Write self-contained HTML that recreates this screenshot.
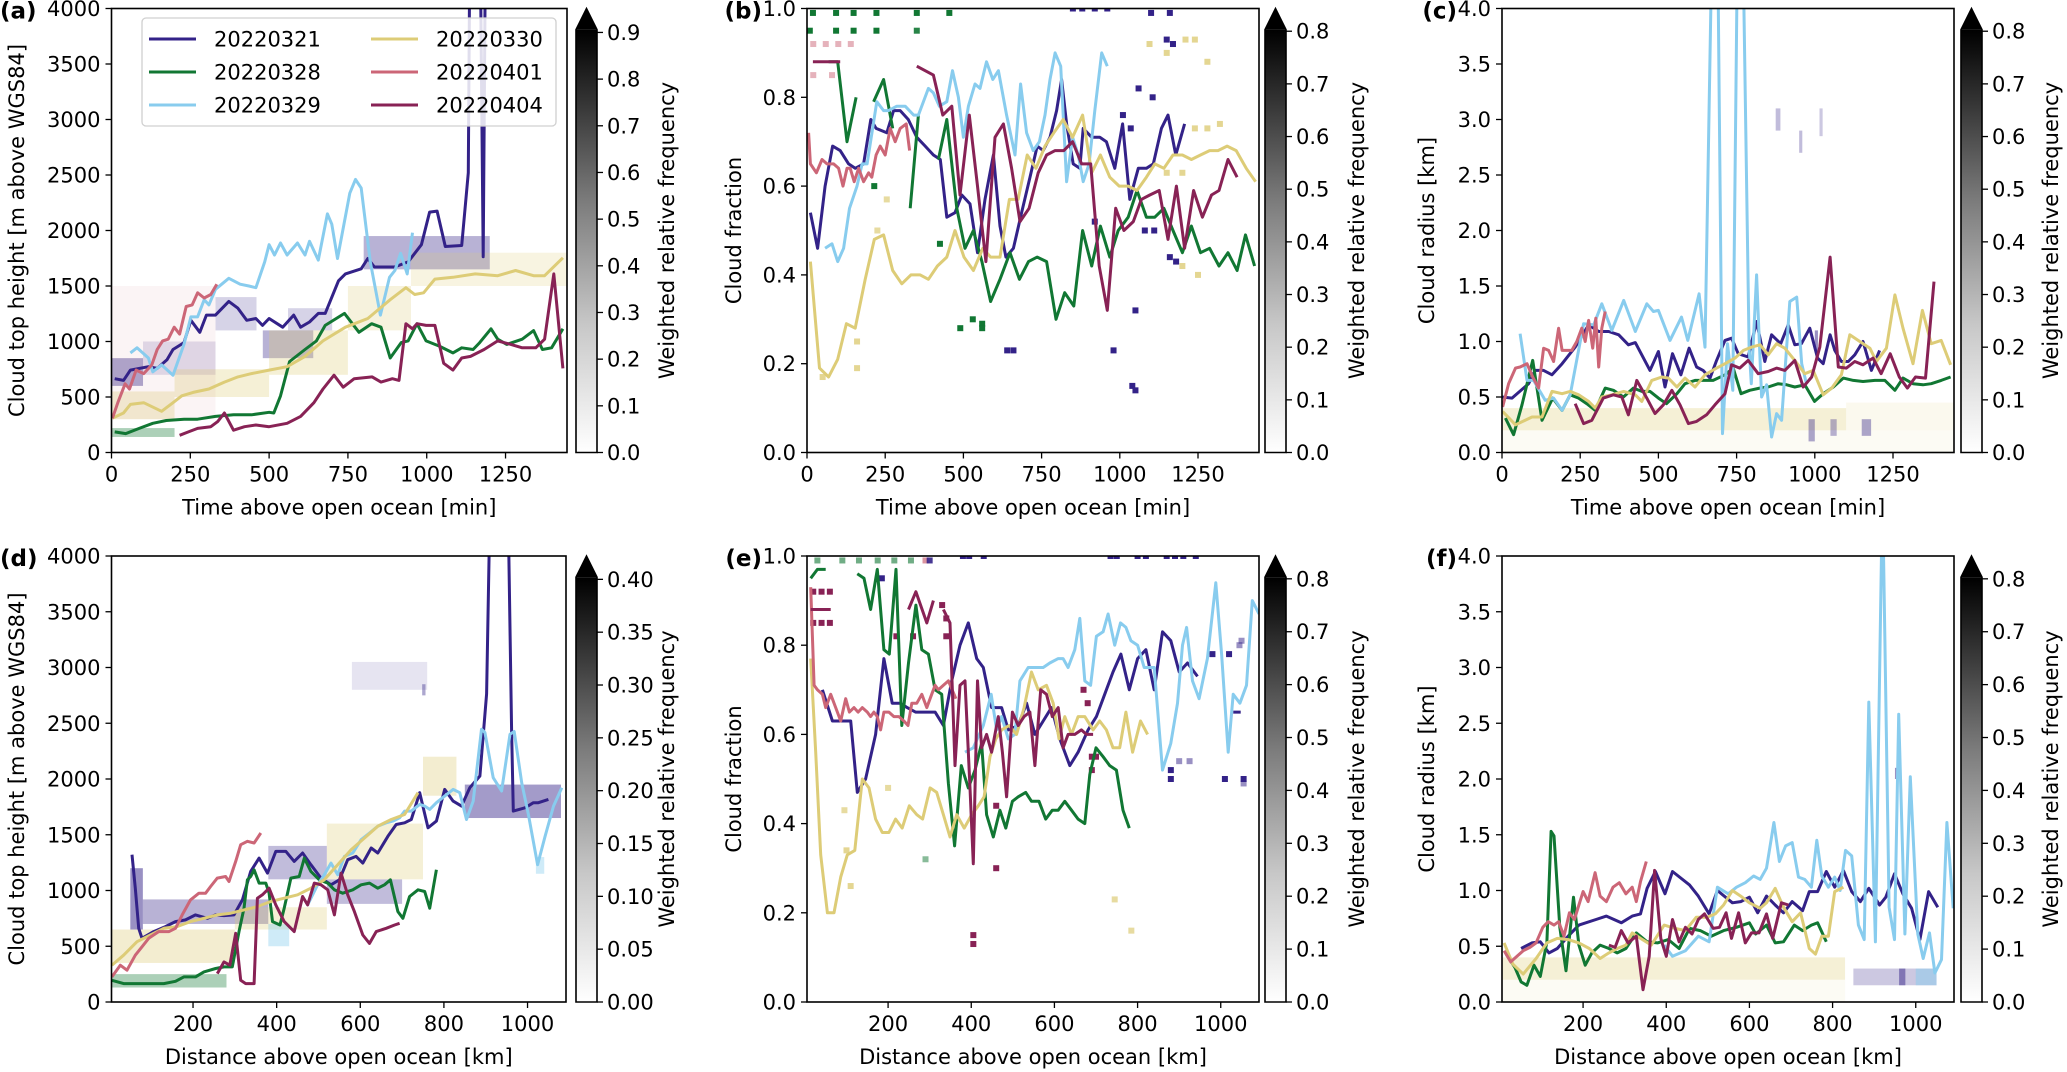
<!DOCTYPE html>
<html><head><meta charset="utf-8">
<style>
html,body{margin:0;padding:0;background:#fff;}
svg{display:block;font-family:"DejaVu Sans","Liberation Sans",sans-serif;}
</style></head>
<body>
<svg id="fig" width="2067" height="1072" viewBox="0 0 2067 1072" xmlns="http://www.w3.org/2000/svg">
<defs>
<linearGradient id="greys" x1="0" y1="1" x2="0" y2="0">
<stop offset="0" stop-color="#ffffff"/><stop offset="0.3" stop-color="#c8c8c8"/><stop offset="0.6" stop-color="#7a7a7a"/><stop offset="1" stop-color="#000000"/>
</linearGradient>
</defs>
</svg>
<script>
// ---------- colours / categories ----------
const dates = ['20220321','20220328','20220329','20220330','20220401','20220404'];
const colors = ['#332288','#117733','#88CCEE','#DDCC77','#CC6677','#882255'];

// ---------- panel (a): cloud top height vs time ----------
const a321 = [[10,665],[38,650],[60,742],[117,773],[145,758],[176,835],[195,928],[230,990],[252,1191],[280,1083],[301,1238],[330,1238],[372,1361],[401,1300],[429,1191],[458,1207],[479,1145],[500,1207],[543,1129],[578,1238],[600,1129],[628,1176],[656,1253],[678,1253],[720,1547],[742,1609],[792,1655],[813,1748],[834,1671],[898,1671],[941,1717],[983,1872],[1009,2166],[1033,2175],[1059,1856],[1111,1865],[1132,2521],[1140,6000],[1165,6000],[1179,1764],[1190,6000],[1200,6000]];
const a328 = [[10,186],[45,170],[88,217],[131,263],[174,288],[230,300],[273,300],[330,325],[387,340],[444,340],[500,362],[515,356],[536,510],[565,820],[614,928],[650,1005],[678,1145],[739,1253],[785,1083],[825,1160],[855,1129],[884,851],[919,990],[941,1005],[969,1160],[998,1005],[1040,959],[1083,897],[1111,943],[1147,928],[1168,990],[1204,1114],[1225,1021],[1254,974],[1303,1021],[1339,1098],[1367,928],[1396,943],[1432,1114]];
const a329 = [[60,897],[81,943],[117,851],[131,727],[159,789],[195,696],[230,975],[252,1222],[273,1222],[294,1377],[309,1330],[330,1470],[372,1569],[408,1516],[436,1500],[458,1485],[486,1717],[500,1872],[517,1779],[536,1887],[557,1779],[590,1887],[614,1779],[628,1903],[656,1733],[685,2150],[699,2057],[717,1748],[756,2336],[774,2460],[792,2382],[821,1717],[853,1238],[882,1578],[899,1640],[917,1795],[938,1609],[955,1980]];
const a330 = [[3,309],[38,356],[60,433],[102,449],[159,371],[195,449],[223,511],[259,541],[309,572],[358,634],[401,681],[444,711],[500,742],[557,773],[614,866],[671,1005],[742,1129],[813,1207],[884,1377],[934,1485],[962,1423],[990,1439],[1026,1562],[1083,1578],[1154,1609],[1225,1593],[1282,1640],[1339,1593],[1374,1593],[1432,1754]];
const a401 = [[3,309],[20,449],[43,619],[57,572],[78,742],[102,711],[128,789],[145,928],[162,1005],[180,1021],[199,1129],[216,1067],[237,1315],[256,1330],[273,1439],[294,1392],[315,1423],[334,1516]];
const a404 = [[216,155],[244,186],[273,217],[315,232],[337,278],[358,356],[387,201],[422,232],[458,248],[500,232],[557,263],[600,325],[642,449],[671,572],[706,696],[735,588],[770,665],[827,681],[855,634],[891,665],[912,650],[934,1160],[955,1114],[969,1160],[998,1145],[1026,1145],[1054,804],[1083,742],[1111,851],[1139,866],[1182,928],[1225,1005],[1267,974],[1303,943],[1346,943],[1374,1021],[1403,1609],[1432,758]];
// heat cells: [x0,x1,y0,y1,series,alpha]
const aHeat = [[0,100,600,850,0,0.4],[100,330,700,1000,0,0.15],[330,460,1100,1400,0,0.2],[480,640,850,1100,0,0.35],[560,700,1100,1300,0,0.2],[800,1200,1650,1950,0,0.35],[0,200,300,550,3,0.3],[200,500,500,750,3,0.3],[500,750,700,1100,3,0.3],[750,950,1100,1500,3,0.25],[950,1445,1500,1800,3,0.22],[0,200,140,220,1,0.35],[0,330,300,1500,4,0.07]];

// ---------- panel (b): cloud fraction vs time ----------
const b321 = [[11,0.54],[34,0.46],[58,0.60],[82,0.69],[106,0.68],[133,0.65],[154,0.64],[181,0.65],[204,0.75],[221,0.73],[255,0.72],[277,0.77],[298,0.77],[324,0.75],[351,0.71],[378,0.69],[404,0.67],[426,0.66],[447,0.53],[473,0.54],[495,0.58],[521,0.56],[545,0.45],[569,0.57],[596,0.67],[617,0.51],[636,0.44],[660,0.46],[686,0.54],[713,0.62],[736,0.69],[755,0.68],[777,0.71],[798,0.77],[814,0.84],[830,0.74],[851,0.65],[872,0.64],[883,0.73],[910,0.71],[936,0.71],[957,0.70],[984,0.64],[1009,0.74],[1032,0.57],[1059,0.64],[1085,0.64],[1107,0.65],[1133,0.73],[1154,0.76],[1179,0.67],[1207,0.74]];
const b328 = [[69,0.88],[98,0.88],[128,0.70],[157,0.80],null,[213,0.79],[245,0.84],[274,0.73],null,[330,0.55],[356,0.76],null,[420,0.66],[447,0.75],[479,0.55],[505,0.46],[532,0.50],[559,0.43],[587,0.34],[617,0.39],[649,0.45],[679,0.39],[708,0.43],[736,0.44],[766,0.43],[796,0.30],[824,0.36],[853,0.33],[881,0.50],[910,0.42],[938,0.51],[968,0.44],[995,0.50],[1027,0.53],[1055,0.59],[1085,0.53],[1112,0.53],[1141,0.55],[1170,0.50],[1200,0.45],[1229,0.51],[1258,0.45],[1287,0.46],[1317,0.42],[1346,0.45],[1375,0.41],[1402,0.49],[1431,0.42]];
const b329 = [[58,0.46],[80,0.47],[98,0.43],[117,0.46],[136,0.55],[160,0.60],[176,0.65],[192,0.65],[223,0.79],[245,0.77],[261,0.77],[287,0.78],[314,0.78],[341,0.76],[356,0.76],[388,0.82],[404,0.81],[423,0.78],[447,0.79],[465,0.86],[484,0.80],[500,0.71],[516,0.78],[537,0.83],[553,0.82],[574,0.88],[594,0.84],[612,0.86],[638,0.76],[665,0.67],[683,0.83],[702,0.72],[723,0.68],[743,0.70],[761,0.76],[777,0.84],[793,0.90],[811,0.87],[830,0.61],[849,0.71],[867,0.67],[883,0.61],[902,0.65],[920,0.77],[942,0.90],[960,0.87]];
const b330 = [[11,0.43],[40,0.19],[69,0.17],[98,0.21],[126,0.29],[154,0.28],[186,0.39],[215,0.48],[245,0.49],[274,0.41],[303,0.38],[332,0.40],[362,0.40],[388,0.39],[417,0.42],[447,0.44],[473,0.50],[502,0.44],[532,0.41],[562,0.46],[587,0.44],[617,0.44],[647,0.57],[675,0.57],[704,0.67],[732,0.64],[761,0.69],[789,0.72],[819,0.75],[849,0.71],[881,0.76],[910,0.63],[938,0.67],[968,0.62],[998,0.60],[1027,0.60],[1055,0.59],[1085,0.62],[1112,0.65],[1141,0.64],[1170,0.67],[1200,0.67],[1229,0.66],[1258,0.67],[1287,0.68],[1314,0.68],[1343,0.69],[1372,0.68],[1404,0.64],[1434,0.61]];
const b401 = [[5,0.72],[11,0.65],[30,0.63],[48,0.66],[64,0.65],[85,0.65],[101,0.64],[115,0.60],[128,0.64],[138,0.64],[151,0.61],[165,0.64],[181,0.61],[197,0.63],[207,0.62],[221,0.67],[234,0.69],[250,0.67],[266,0.73],[282,0.70],[298,0.73],[317,0.74],[328,0.68]];
const b404 = [[19,0.88],[106,0.88],null,[351,0.87],[378,0.86],[404,0.85],[434,0.76],[463,0.78],[489,0.58],[519,0.76],[545,0.60],[572,0.43],[601,0.71],[628,0.74],[654,0.64],[681,0.52],[710,0.55],[739,0.63],[766,0.67],[793,0.68],[821,0.68],[849,0.70],[878,0.65],[907,0.65],[934,0.42],[960,0.32],[987,0.55],[1013,0.50],[1043,0.52],[1069,0.57],[1096,0.58],[1126,0.59],[1154,0.48],[1181,0.60],[1207,0.46],[1236,0.59],[1264,0.53],[1293,0.58],[1317,0.59],[1346,0.66],[1375,0.62]];
// scattered cells: [x,y,series,alpha]
const bDots = [[19,0.99,1,1],[93,0.99,1,1],[149,0.99,1,1],[222,0.99,1,1],[351,0.99,1,1],[455,0.99,1,1],[9,0.95,1,1],[93,0.95,1,1],[149,0.95,1,1],[222,0.95,1,1],[351,0.95,1,0.9],[20,0.92,4,0.5],[60,0.92,4,0.5],[100,0.92,4,0.5],[140,0.92,4,0.5],[20,0.85,4,0.5],[80,0.85,4,0.5],[850,1.0,0,1],[880,1.0,0,1],[920,1.0,0,1],[960,1.0,0,1],[1100,0.99,0,1],[1160,0.99,0,1],[1150,0.93,0,1],[1170,0.92,0,1],[1095,0.92,3,0.8],[1150,0.90,3,0.8],[1210,0.93,3,0.8],[1240,0.93,3,0.8],[1280,0.88,3,0.8],[1240,0.73,3,0.8],[1280,0.73,3,0.8],[1320,0.74,3,0.8],[1150,0.63,3,0.8],[1200,0.63,3,0.8],[1250,0.40,3,0.8],[1200,0.42,3,0.8],[1060,0.82,0,1],[1105,0.80,0,1],[1010,0.76,0,1],[1035,0.73,0,1],[1080,0.50,0,1],[1110,0.50,0,1],[1160,0.44,0,1],[1180,0.43,0,1],[1050,0.32,0,1],[980,0.23,0,1],[1040,0.15,0,1],[1050,0.14,0,1],[920,0.52,0,1],[530,0.30,1,1],[560,0.29,1,1],[560,0.28,1,1],[490,0.28,1,1],[640,0.23,0,1],[660,0.23,0,1],[425,0.47,1,1],[215,0.60,1,1],[50,0.17,3,0.8],[160,0.25,3,0.8],[160,0.19,3,0.8],[225,0.50,3,0.7],[255,0.57,3,0.7]];

// ---------- panel (c): cloud radius vs time ----------
const c321 = [[0,0.50],[32,0.49],[85,0.62],[106,0.74],[133,0.74],[160,0.70],[192,0.80],[234,0.95],[277,1.15],[309,1.09],[341,1.09],[373,1.06],[404,0.97],[426,0.99],[473,0.74],[500,0.91],[521,0.59],[545,0.89],[572,0.70],[598,0.94],[622,0.77],[643,0.74],[665,0.67],[686,0.83],[713,1.01],[734,1.03],[755,0.89],[787,0.86],[814,1.18],[840,0.82],[862,1.06],[891,0.98],[915,1.15],[936,0.97],[957,0.98],[984,1.12],[1009,0.85],[1027,0.80],[1049,1.06],[1064,0.92],[1085,0.82],[1107,0.82],[1128,0.88],[1154,1.00],[1181,0.74],[1207,0.92]];
const c328 = [[11,0.31],[37,0.16],[64,0.43],[98,0.83],[128,0.29],[162,0.49],[192,0.38],[218,0.52],[245,0.49],[271,0.44],[298,0.38],[330,0.58],[356,0.56],[388,0.50],[420,0.58],[447,0.55],[473,0.55],[500,0.49],[526,0.44],[559,0.53],[585,0.62],[617,0.65],[649,0.65],[675,0.65],[713,0.70],[739,0.76],[764,0.53],[792,0.56],[824,0.58],[851,0.59],[883,0.62],[910,0.61],[936,0.59],[968,0.61],[999,0.46],[1027,0.53],[1059,0.59],[1091,0.67],[1123,0.65],[1154,0.64],[1192,0.65],[1224,0.65],[1256,0.56],[1282,0.67],[1314,0.62],[1346,0.61],[1372,0.62],[1404,0.65],[1434,0.68]];
const c329 = [[58,1.07],[80,0.65],[101,0.65],[138,0.47],[165,0.49],[192,0.38],[218,0.52],[261,1.16],[293,1.15],[319,1.34],[351,1.10],[389,1.37],[426,1.09],[463,1.34],[484,1.27],[500,1.28],[537,1.01],[574,1.22],[594,1.01],[630,1.43],[649,0.95],[683,6.5],[705,0.17],[721,0.98],[738,0.56],[760,6.5],[790,0.95],[797,0.62],[814,1.60],[830,0.50],[846,0.61],[862,0.14],[878,0.35],[894,0.29],[920,1.36],[942,1.40],[958,0.80],[973,0.62]];
const c330 = [[2,0.37],[43,0.25],[96,0.32],[128,0.32],[160,0.55],[192,0.53],[218,0.55],[245,0.52],[277,0.46],[298,0.40],[319,0.50],[351,0.52],[389,0.55],[426,0.52],[447,0.46],[479,0.65],[511,0.68],[532,0.67],[559,0.59],[585,0.67],[617,0.59],[649,0.70],[686,0.76],[713,0.80],[745,0.85],[772,0.92],[798,0.95],[825,0.97],[851,0.88],[878,0.98],[904,0.94],[936,0.83],[968,0.71],[995,0.74],[1027,0.52],[1054,0.58],[1085,0.70],[1112,1.06],[1144,1.00],[1176,0.94],[1197,0.82],[1229,0.94],[1256,1.42],[1282,1.12],[1314,0.80],[1344,1.28],[1372,0.98],[1404,1.01],[1434,0.79]];
const c401 = [[2,0.41],[21,0.62],[43,0.76],[58,0.77],[80,0.80],[98,0.68],[117,0.58],[133,0.94],[149,0.92],[165,0.82],[181,1.12],[192,0.92],[207,0.92],[223,0.92],[239,1.00],[255,1.12],[266,1.00],[277,1.19],[290,0.94],[300,1.21],[309,0.77],[319,1.12],[330,1.27]];
const c404 = [[234,0.44],[261,0.26],[287,0.29],[324,0.49],[356,0.52],[383,0.50],[404,0.34],[431,0.65],[463,0.49],[489,0.35],[516,0.43],[543,0.56],[569,0.43],[596,0.26],[622,0.28],[654,0.34],[681,0.43],[713,0.53],[734,0.79],[760,0.76],[787,0.83],[819,0.71],[851,0.73],[878,0.76],[904,0.74],[936,0.83],[963,0.59],[990,0.68],[1016,0.95],[1049,1.76],[1075,0.77],[1101,0.76],[1128,0.82],[1154,0.79],[1186,0.85],[1212,0.71],[1241,0.89],[1270,0.68],[1296,0.58],[1322,0.68],[1354,0.67],[1381,1.54]];
const cHeat = [[0,1100,0.2,0.4,3,0.3],[1100,1445,0.2,0.45,3,0.12],[0,1445,0.0,0.2,3,0.08],[1150,1180,0.15,0.3,0,0.4],[980,1000,0.1,0.3,0,0.4],[1050,1070,0.15,0.3,0,0.35],[1015,1025,2.85,3.1,0,0.25],[875,890,2.9,3.1,0,0.3],[950,960,2.7,2.9,0,0.3],[1000,1010,0.9,1.1,0,0.5]];

// ---------- panel (d): cloud top height vs distance ----------
const d321 = [[54,1321],[62,1021],[70,661],[78,571],[106,631],[134,676],[158,721],[182,736],[206,781],[234,751],[254,781],[274,775],[298,781],[318,916],[338,1171],[358,1291],[378,1156],[398,1351],[422,1351],[442,1261],[462,1336],[482,1231],[506,1111],[530,1051],[550,1096],[570,1276],[590,1306],[606,1246],[626,1381],[642,1336],[666,1486],[686,1592],[706,1607],[722,1637],[742,1877],[762,1562],[782,1622],[802,1907],[822,1802],[842,1757],[862,1922],[886,2027],[902,2763],[920,6500],[945,6500],[962,2432],[966,1712],[994,1742],[1014,1787],[1026,1787],[1050,1817]];
const d328 = [[6,195],[34,165],[66,165],[106,165],[130,165],[158,186],[178,225],[206,225],[226,270],[254,300],[274,315],[294,315],[310,631],[322,841],[330,1096],[338,1126],[346,1186],[358,1066],[374,1066],[382,976],[390,721],[408,691],[418,841],[434,1111],[454,1126],[466,1291],[482,1171],[502,1096],[522,1066],[538,1006],[558,976],[582,1006],[602,1051],[622,1066],[642,1021],[658,1051],[672,1096],[690,811],[702,751],[718,946],[738,1006],[754,991],[766,841],[782,1186]];
const d329 = [[474,871],[498,1051],[514,1141],[530,1246],[546,1141],[562,1306],[582,1336],[602,1456],[622,1516],[642,1577],[662,1607],[678,1622],[694,1652],[706,1712],[722,1712],[742,1772],[754,1757],[766,1727],[782,1787],[802,1847],[822,1907],[838,1877],[854,1637],[870,1802],[890,2447],[898,2417],[918,2012],[938,1892],[958,2402],[968,2426],[986,1967],[1002,1682],[1024,1231],[1042,1486],[1062,1757],[1082,1922]];
const d330 = [[6,330],[34,420],[66,541],[98,601],[130,661],[162,676],[194,721],[226,751],[258,781],[290,796],[322,826],[354,856],[386,901],[418,931],[450,961],[482,1021],[514,1096],[546,1231],[578,1366],[610,1471],[642,1577],[674,1637],[706,1682],[738,1877]];
const d401 = [[6,225],[26,330],[42,285],[62,420],[78,495],[94,571],[118,631],[142,631],[158,661],[174,781],[194,916],[214,976],[230,976],[242,1036],[258,1111],[278,1126],[286,1081],[302,1261],[314,1411],[330,1441],[346,1426],[362,1516]];
const d404 = [[258,255],[274,360],[288,330],[302,616],[314,195],[326,165],[346,165],[354,931],[366,961],[382,1021],[398,871],[418,721],[442,631],[462,946],[474,871],[490,1066],[506,1051],[522,1006],[538,781],[554,1156],[570,961],[586,811],[606,601],[622,526],[638,631],[662,661],[682,691],[694,706]];
const dHeat = [[50,80,650,1200,0,0.5],[80,380,700,920,0,0.35],[380,520,1100,1400,0,0.3],[520,700,880,1100,0,0.3],[850,1080,1650,1950,0,0.45],[580,760,2800,3050,0,0.12],[748,756,2750,2850,0,0.4],[0,300,350,650,3,0.35],[300,520,650,850,3,0.3],[520,750,1100,1600,3,0.3],[750,830,1850,2200,3,0.35],[380,430,500,700,2,0.4],[1020,1040,1150,1300,2,0.4],[0,280,130,250,1,0.35]];

// ---------- panel (e): cloud fraction vs distance ----------
const e321 = [[42,0.70],[66,0.63],[90,0.63],[110,0.63],[126,0.47],[146,0.50],[170,0.60],[190,0.77],[210,0.67],[230,0.67],[246,0.66],[266,0.65],[289,0.65],[313,0.65],[333,0.62],[353,0.72],[373,0.80],[393,0.85],[413,0.77],[429,0.75],[449,0.66],[473,0.66],[489,0.61],[513,0.62],[533,0.67],[553,0.60],[573,0.63],[593,0.66],[613,0.59],[637,0.53],[657,0.56],[681,0.61],[701,0.64],[721,0.69],[741,0.74],[760,0.78],[780,0.70],[800,0.77],[820,0.79],[840,0.70],[860,0.83],[880,0.81],[900,0.74],[920,0.76],[944,0.73],null,[1030,0.65],[1048,0.65]];
const e328 = [[14,0.95],[30,0.97],[50,0.97],null,[126,0.96],[142,0.95],[158,0.88],[174,0.97],[190,0.79],[203,0.78],[219,0.97],[233,0.62],[249,0.76],[267,0.89],[281,0.79],[297,0.78],[313,0.70],[329,0.69],[345,0.49],[360,0.35],[376,0.53],[393,0.48],[409,0.52],[425,0.58],[437,0.42],[453,0.37],[469,0.43],[483,0.39],[499,0.45],[513,0.46],[531,0.47],[545,0.45],[563,0.45],[579,0.41],[595,0.43],[609,0.43],[625,0.45],[641,0.43],[657,0.41],[673,0.40],[685,0.51],[700,0.57],[717,0.55],[733,0.53],[749,0.52],[765,0.43],[780,0.39]];
const e329 = [[385,0.56],[405,0.57],[429,0.62],[448,0.69],[461,0.61],[473,0.64],[489,0.59],[505,0.60],[517,0.72],[537,0.75],[557,0.75],[573,0.75],[589,0.76],[609,0.77],[621,0.77],[633,0.75],[649,0.79],[661,0.86],[673,0.72],[687,0.71],[701,0.82],[717,0.83],[729,0.87],[745,0.80],[759,0.85],[772,0.84],[784,0.81],[800,0.80],[816,0.75],[840,0.75],[860,0.52],[880,0.58],[896,0.67],[908,0.80],[918,0.84],[932,0.72],[948,0.68],[968,0.77],[988,0.94],[1002,0.78],[1018,0.56],[1030,0.69],[1046,0.67],[1062,0.71],[1076,0.90],[1092,0.87]];
const e330 = [[14,0.77],[26,0.56],[38,0.33],[54,0.20],[70,0.20],[86,0.28],[102,0.33],[120,0.34],[138,0.50],[154,0.48],[170,0.41],[186,0.38],[202,0.38],[218,0.41],[234,0.39],[251,0.44],[269,0.42],[283,0.41],[301,0.48],[317,0.47],[333,0.42],[349,0.37],[365,0.42],[383,0.39],[401,0.42],[417,0.44],[431,0.46],[445,0.55],[459,0.59],[473,0.61],[491,0.62],[509,0.60],[527,0.66],[545,0.74],[561,0.70],[581,0.71],[597,0.67],[611,0.59],[625,0.64],[641,0.60],[657,0.64],[673,0.64],[693,0.61],[709,0.63],[725,0.61],[741,0.57],[757,0.57],[772,0.65],[788,0.56],[807,0.63],[824,0.60]];
const e401 = [[14,0.93],[22,0.71],[30,0.70],[42,0.69],[50,0.66],[62,0.69],[74,0.66],[86,0.63],[98,0.68],[107,0.65],[118,0.66],[128,0.65],[138,0.66],[150,0.65],[158,0.64],[166,0.65],[174,0.64],[182,0.61],[190,0.65],[202,0.65],[214,0.64],[226,0.64],[238,0.63],[248,0.62],[257,0.67],[269,0.67],[281,0.69],[293,0.66],[305,0.69],[313,0.71],[321,0.70],[333,0.71],[345,0.72],[363,0.68]];
const e404 = [[14,0.88],[62,0.88],null,[249,0.88],[267,0.92],[293,0.85],[309,0.90],null,[333,0.88],[349,0.85],[361,0.53],[373,0.71],[385,0.72],[397,0.48],[405,0.31],[415,0.72],[425,0.57],[437,0.60],[449,0.56],[465,0.64],[475,0.56],[485,0.46],[499,0.65],[513,0.62],[527,0.64],[541,0.65],[553,0.53],[567,0.70],[581,0.69],[595,0.64],[609,0.66],[621,0.57],[633,0.60],[649,0.60],[665,0.61],[677,0.60],[693,0.60]];
const eDots = [[30,0.99,1,0.6],[90,0.99,1,0.6],[130,0.99,1,0.6],[175,0.99,1,0.6],[215,0.99,1,0.6],[255,0.99,1,0.6],[290,0.99,4,0.7],[300,0.99,0,0.9],[380,1.0,0,1],[395,1.0,0,1],[430,1.0,0,1],[735,1.0,0,1],[750,1.0,0,1],[800,1.0,0,1],[820,1.0,0,1],[870,1.0,0,1],[890,1.0,0,1],[910,1.0,0,1],[940,1.0,0,1],[185,0.95,0,1],[20,0.92,5,1],[40,0.92,5,1],[60,0.92,5,1],[20,0.85,5,1],[40,0.85,5,1],[60,0.85,5,1],[220,0.82,5,1],[260,0.82,5,1],[340,0.82,5,1],[330,0.89,5,1],[340,0.86,5,1],[670,0.70,5,1],[680,0.67,5,1],[690,0.55,5,1],[700,0.55,5,1],[690,0.52,5,1],[460,0.44,5,1],[460,0.30,5,1],[405,0.15,5,1],[405,0.13,5,1],[980,0.78,0,1],[1020,0.78,0,1],[1045,0.80,0,0.5],[1050,0.81,0,0.5],[1010,0.50,0,1],[1055,0.50,0,1],[1055,0.49,0,0.5],[880,0.50,0,1],[900,0.54,0,0.5],[925,0.54,0,0.5],[880,0.52,0,1],[785,0.16,3,0.7],[745,0.23,3,0.7],[100,0.34,3,0.8],[110,0.26,3,0.8],[200,0.48,3,0.7],[95,0.43,3,0.7],[290,0.32,1,0.5]];

// ---------- panel (f): cloud radius vs distance ----------
const f321 = [[51,0.48],[77,0.53],[97,0.54],[118,0.44],[138,0.48],[164,0.59],[190,0.69],[231,0.74],[256,0.77],[292,0.71],[318,0.77],[338,0.79],[354,1.02],[374,1.17],[397,0.97],[415,1.17],[456,1.05],[477,0.95],[503,0.79],[523,1.00],[559,0.89],[579,0.90],[600,0.94],[620,0.80],[641,0.95],[662,0.87],[682,0.80],[703,0.90],[728,0.82],[744,0.99],[764,0.99],[785,1.17],[805,1.03],[826,1.18],[846,0.99],[867,0.90],[887,1.02],[913,0.87],[928,0.94],[949,1.15],[969,0.97],[990,0.84],[1010,0.56],[1031,0.99],[1053,0.85]];
const f328 = [[15,0.43],[36,0.31],[51,0.18],[65,0.15],[82,0.33],[97,0.23],[113,0.54],[123,1.53],[130,1.49],[144,0.67],[159,0.28],[177,0.94],[190,0.51],[205,0.33],[221,0.44],[241,0.51],[262,0.48],[282,0.44],[303,0.48],[328,0.62],[354,0.54],[379,0.53],[405,0.56],[431,0.48],[456,0.66],[482,0.64],[508,0.59],[538,0.64],[569,0.67],[600,0.71],[615,0.61],[641,0.69],[662,0.53],[682,0.54],[708,0.69],[728,0.64],[749,0.69],[764,0.71],[785,0.54]];
const f329 = [[395,0.51],[415,0.41],[446,0.46],[477,0.59],[503,0.54],[523,1.03],[549,0.97],[569,1.03],[590,1.07],[610,1.13],[626,1.10],[641,1.20],[659,1.61],[672,1.26],[687,1.40],[703,1.43],[718,1.12],[733,1.10],[749,1.03],[762,1.45],[774,1.13],[790,1.03],[805,1.12],[818,1.00],[831,1.36],[846,1.31],[862,0.69],[876,0.56],[887,2.69],[903,0.54],[920,4.6],[936,0.85],[949,0.56],[959,2.58],[974,0.61],[987,2.02],[1005,0.61],[1018,0.39],[1033,0.62],[1046,0.26],[1062,0.38],[1075,1.61],[1090,0.84]];
const f330 = [[10,0.53],[31,0.34],[56,0.25],[87,0.39],[113,0.53],[138,0.57],[164,0.56],[190,0.53],[215,0.48],[241,0.39],[262,0.44],[282,0.48],[303,0.51],[318,0.62],[338,0.57],[364,0.51],[395,0.69],[421,0.66],[446,0.64],[472,0.76],[497,0.76],[518,0.79],[538,0.87],[559,1.00],[579,0.95],[600,0.89],[626,0.84],[641,0.89],[662,1.02],[682,0.85],[703,0.72],[723,0.80],[744,0.48],[759,0.43],[774,0.59],[790,0.59],[805,0.99],[826,1.03]];
const f401 = [[10,0.46],[26,0.36],[41,0.41],[56,0.46],[72,0.49],[87,0.53],[103,0.67],[116,0.72],[130,0.69],[141,0.72],[154,0.59],[167,0.80],[179,0.74],[190,0.87],[200,0.99],[212,0.90],[229,1.16],[241,0.95],[256,0.90],[272,1.03],[287,1.07],[303,0.97],[318,1.03],[328,0.90],[338,1.08],[352,1.26]];
const f404 = [[262,0.51],[277,0.49],[292,0.64],[308,0.53],[328,0.59],[344,0.11],[359,0.41],[372,1.18],[387,0.57],[400,0.41],[415,0.74],[431,0.54],[446,0.67],[462,0.61],[477,0.74],[492,0.79],[513,0.66],[528,0.67],[544,0.80],[557,0.57],[574,0.80],[590,0.53],[605,0.62],[623,0.62],[641,0.79],[656,0.57],[677,0.89],[694,0.87]];
const fHeat = [[5,830,0.2,0.4,3,0.3],[5,830,0.0,0.2,3,0.08],[850,1050,0.15,0.3,0,0.25],[960,975,0.15,0.3,0,0.5],[1000,1050,0.15,0.3,2,0.5],[950,960,2.0,2.1,0,0.5]];

// ---------- ticks ----------
const cbTicksA = [0,0.1,0.2,0.3,0.4,0.5,0.6,0.7,0.8,0.9];
const cbTicks8 = [0,0.1,0.2,0.3,0.4,0.5,0.6,0.7,0.8];
const cbTicksD = [0,0.05,0.1,0.15,0.2,0.25,0.3,0.35,0.4];
const xTicksTime = [0,250,500,750,1000,1250];
const xTicksDist = [200,400,600,800,1000];
const yTicksCTH = [0,500,1000,1500,2000,2500,3000,3500,4000];
const yTicksCF = [0,0.2,0.4,0.6,0.8,1.0];
const yTicksCR = [0,0.5,1.0,1.5,2.0,2.5,3.0,3.5,4.0];

const NS = 'http://www.w3.org/2000/svg';
const svg = document.getElementById('fig');
function mk(tag, attrs, parent){
  const el = document.createElementNS(NS, tag);
  for (const k in attrs) el.setAttribute(k, attrs[k]);
  (parent||svg).appendChild(el);
  return el;
}

const panels = [
 {id:'a', tag:'(a)', L:111.5, R:567, T:8.5, B:452.5, xd:[0,1445], yd:[0,4000], xt:xTicksTime, yt:yTicksCTH, yfmt:v=>String(v), series:[a321,a328,a329,a330,a401,a404], heat:aHeat, dots:null, xl:'Time above open ocean [min]', yl:'Cloud top height [m above WGS84]', ylx:17, tagx:0, tanchor:'start', cb:{x0:576,x1:597,ticks:cbTicksA,vmax:0.906,fmt:v=>v.toFixed(1)}, cblx:667},
 {id:'b', tag:'(b)', L:807, R:1259, T:8.5, B:452.5, xd:[0,1445], yd:[0,1], xt:xTicksTime, yt:yTicksCF, yfmt:v=>v.toFixed(1), series:[b321,b328,b329,b330,b401,b404], heat:null, dots:bDots, xl:'Time above open ocean [min]', yl:'Cloud fraction', ylx:734, tagx:762, tanchor:'end', cb:{x0:1265,x1:1286,ticks:cbTicks8,vmax:0.803,fmt:v=>v.toFixed(1)}, cblx:1357},
 {id:'c', tag:'(c)', L:1502, R:1954, T:8.5, B:452.5, xd:[0,1445], yd:[0,4], xt:xTicksTime, yt:yTicksCR, yfmt:v=>v.toFixed(1), series:[c321,c328,c329,c330,c401,c404], heat:cHeat, dots:null, xl:'Time above open ocean [min]', yl:'Cloud radius [km]', ylx:1427, tagx:1457, tanchor:'end', cb:{x0:1961,x1:1982,ticks:cbTicks8,vmax:0.803,fmt:v=>v.toFixed(1)}, cblx:2051},
 {id:'d', tag:'(d)', L:111.5, R:566, T:556, B:1002, xd:[5,1092], yd:[0,4000], xt:xTicksDist, yt:yTicksCTH, yfmt:v=>String(v), series:[d321,d328,d329,d330,d401,d404], heat:dHeat, dots:null, xl:'Distance above open ocean [km]', yl:'Cloud top height [m above WGS84]', ylx:17, tagx:0, tanchor:'start', cb:{x0:576,x1:597,ticks:cbTicksD,vmax:0.402,fmt:v=>v.toFixed(2)}, cblx:667},
 {id:'e', tag:'(e)', L:807, R:1259, T:556, B:1002, xd:[5,1092], yd:[0,1], xt:xTicksDist, yt:yTicksCF, yfmt:v=>v.toFixed(1), series:[e321,e328,e329,e330,e401,e404], heat:null, dots:eDots, xl:'Distance above open ocean [km]', yl:'Cloud fraction', ylx:734, tagx:762, tanchor:'end', cb:{x0:1265,x1:1286,ticks:cbTicks8,vmax:0.803,fmt:v=>v.toFixed(1)}, cblx:1357},
 {id:'f', tag:'(f)', L:1502, R:1954, T:556, B:1002, xd:[5,1092], yd:[0,4], xt:xTicksDist, yt:yTicksCR, yfmt:v=>v.toFixed(1), series:[f321,f328,f329,f330,f401,f404], heat:fHeat, dots:null, xl:'Distance above open ocean [km]', yl:'Cloud radius [km]', ylx:1427, tagx:1457, tanchor:'end', cb:{x0:1961,x1:1982,ticks:cbTicks8,vmax:0.803,fmt:v=>v.toFixed(1)}, cblx:2051}
];

panels.forEach(p => {
  const g = mk('g', {});
  
  
  const sx = v => p.L + (v - p.xd[0]) / (p.xd[1] - p.xd[0]) * (p.R - p.L);
  const sy = v => p.B - (v - p.yd[0]) / (p.yd[1] - p.yd[0]) * (p.B - p.T);
  const cp = mk('clipPath', {id:'clip-' + p.id}, g);
  mk('rect', {x:p.L, y:p.T, width:p.R - p.L, height:p.B - p.T}, cp);
  const plot = mk('g', {'clip-path':'url(#clip-' + p.id + ')'}, g);
  
  

  if (p.heat) p.heat.forEach(h => {
    const r = mk('rect', {x:sx(h[0]), y:sy(h[3]), width:sx(h[1]) - sx(h[0]), height:sy(h[2]) - sy(h[3]), fill:colors[h[4]], 'fill-opacity':h[5]}, plot);
    
    
  });
  if (p.dots) p.dots.forEach(d => {
    const r = mk('rect', {x:sx(d[0]) - 3, y:sy(d[1]) - 3, width:6, height:6, fill:colors[d[2]], 'fill-opacity':d[3]}, plot);
    
    
  });

  p.series.forEach((s, i) => {
    let d = '', pen = false;
    s.forEach(pt => {
      if (!pt) { pen = false; return; }
      d += (pen ? 'L' : 'M') + sx(pt[0]).toFixed(1) + ' ' + sy(pt[1]).toFixed(1);
      pen = true;
    });
    const path = mk('path', {d:d, fill:'none', stroke:colors[i], 'stroke-width':3, 'stroke-linejoin':'round'}, plot);
    
    
  });

  const fr = mk('rect', {x:p.L, y:p.T, width:p.R - p.L, height:p.B - p.T, fill:'none', stroke:'#000', 'stroke-width':1.6}, g);
  
  

  p.xt.forEach(v => {
    const x = sx(v);
    mk('line', {x1:x, x2:x, y1:p.B, y2:p.B + 6, stroke:'#000', 'stroke-width':1.3}, g);
    const t = mk('text', {x:x, y:p.B + 29, 'font-size':21, 'text-anchor':'middle'}, g);
    
    
    t.textContent = String(v);
  });
  p.yt.forEach(v => {
    const y = sy(v);
    mk('line', {x1:p.L - 6, x2:p.L, y1:y, y2:y, stroke:'#000', 'stroke-width':1.3}, g);
    const t = mk('text', {x:p.L - 11, y:y + 7.5, 'font-size':21, 'text-anchor':'end'}, g);
    
    
    t.textContent = p.yfmt(v);
  });
  const xl = mk('text', {x:(p.L + p.R) / 2, y:p.B + 62, 'font-size':21, 'text-anchor':'middle'}, g);
  
  
  xl.textContent = p.xl;
  const ylc = (p.T + p.B) / 2;
  const yl = mk('text', {x:p.ylx, y:ylc, 'font-size':21, 'text-anchor':'middle', 'dominant-baseline':'central', transform:'rotate(-90 ' + p.ylx + ' ' + ylc + ')'}, g);
  
  
  yl.textContent = p.yl;
  const tg = mk('text', {x:p.tagx, y:p.T + 10, 'font-size':23, 'font-weight':'bold', 'text-anchor':p.tanchor}, g);
  
  
  tg.textContent = p.tag;

  const cb = p.cb, H = p.B - p.T, ext = H / 1.05 * 0.05, cTop = p.T + ext;
  const cbg = mk('g', {}, g);
  
  
  mk('rect', {x:cb.x0, y:cTop, width:cb.x1 - cb.x0, height:p.B - cTop, fill:'url(#greys)'}, cbg);
  mk('path', {d:'M' + cb.x0 + ' ' + cTop + 'L' + (cb.x0 + cb.x1) / 2 + ' ' + p.T + 'L' + cb.x1 + ' ' + cTop + 'Z', fill:'#000'}, cbg);
  mk('path', {d:'M' + cb.x0 + ' ' + p.B + 'L' + cb.x0 + ' ' + cTop + 'L' + (cb.x0 + cb.x1) / 2 + ' ' + p.T + 'L' + cb.x1 + ' ' + cTop + 'L' + cb.x1 + ' ' + p.B + 'Z', fill:'none', stroke:'#000', 'stroke-width':1.6}, cbg);
  const cy = v => p.B - v / cb.vmax * (p.B - cTop);
  cb.ticks.forEach(v => {
    const y = cy(v);
    mk('line', {x1:cb.x1, x2:cb.x1 + 6, y1:y, y2:y, stroke:'#000', 'stroke-width':1.3}, cbg);
    const t = mk('text', {x:cb.x1 + 10, y:y + 7.5, 'font-size':21}, cbg);
    
    
    t.textContent = cb.fmt(v);
  });
  const cl = mk('text', {x:p.cblx, y:ylc, 'font-size':21, 'text-anchor':'middle', 'dominant-baseline':'central', transform:'rotate(-90 ' + p.cblx + ' ' + ylc + ')'}, cbg);
  
  
  cl.textContent = 'Weighted relative frequency';
});

const lg = mk('g', {});


mk('rect', {x:142, y:18, width:414, height:108, rx:4, fill:'#fff', 'fill-opacity':0.85, stroke:'#d0d0d0', 'stroke-width':1.3}, lg);
dates.forEach((dte, i) => {
  const col = i < 3 ? 0 : 1, row = i % 3;
  const lx = col === 0 ? 149 : 371, ly = 39 + row * 33;
  const e = mk('g', {}, lg);
  
  
  mk('line', {x1:lx, x2:lx + 47, y1:ly, y2:ly, stroke:colors[i], 'stroke-width':3}, e);
  const t = mk('text', {x:lx + 65, y:ly + 7.5, 'font-size':21}, e);
  t.textContent = dte;
});
</script>
</body></html>
